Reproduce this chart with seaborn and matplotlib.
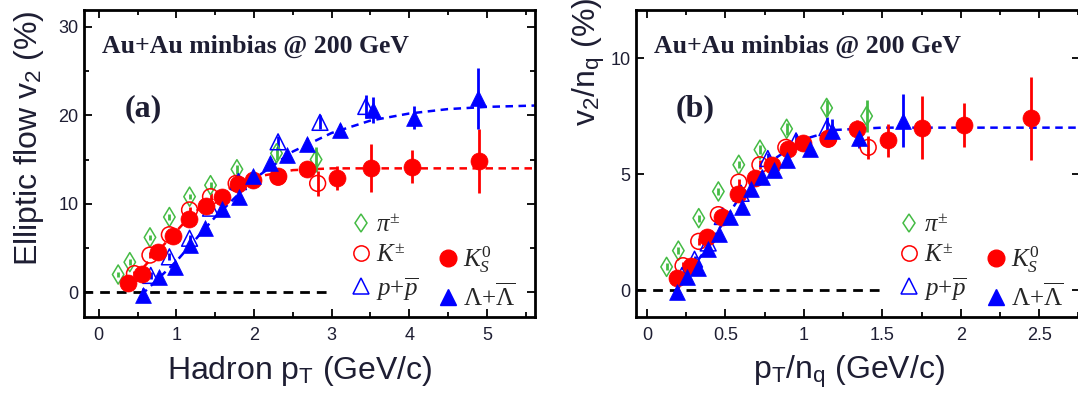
import matplotlib
matplotlib.use("Agg")
import matplotlib.pyplot as plt
from matplotlib.lines import Line2D
from matplotlib.ticker import MultipleLocator
import seaborn as sns

# ---- panel (a): v2 vs hadron pT ----
pi_pt = [0.25, 0.40, 0.66, 0.91, 1.17, 1.44, 1.78, 2.29, 2.80]
pi_v2 = [2.0, 3.4, 6.2, 8.5, 10.8, 12.1, 13.9, 15.7, 15.0]
pi_err = [0.3, 0.3, 0.3, 0.3, 0.3, 0.4, 0.5, 0.7, 1.4]

kch_pt = [0.46, 0.66, 0.91, 1.17, 1.44, 1.77, 2.31, 2.82]
kch_v2 = [2.1, 4.2, 6.5, 9.3, 10.8, 12.3, 13.0, 12.3]
kch_err = [0.3, 0.3, 0.3, 0.3, 0.4, 0.5, 0.6, 1.4]

k0s_pt = [0.38, 0.56, 0.76, 0.96, 1.16, 1.38, 1.59, 1.80, 1.99, 2.31, 2.68, 3.07, 3.51, 4.04, 4.90]
k0s_v2 = [1.0, 2.1, 4.6, 6.3, 8.3, 9.7, 10.8, 12.2, 12.7, 13.1, 13.9, 12.9, 14.0, 14.2, 14.8]
k0s_err = [0.3, 0.3, 0.3, 0.3, 0.3, 0.3, 0.4, 0.4, 0.5, 0.5, 0.8, 1.4, 2.7, 1.9, 3.6]

p_pt = [0.67, 0.91, 1.17, 1.44, 1.80, 2.31, 2.85, 3.44]
p_v2 = [1.9, 4.0, 6.1, 9.5, 12.5, 17.0, 19.2, 21.0]
p_err = [0.4, 0.4, 0.4, 0.5, 0.6, 0.7, 0.8, 1.3]

lam_pt = [0.57, 0.77, 0.98, 1.17, 1.37, 1.59, 1.81, 1.99, 2.20, 2.42, 2.68, 3.11, 3.53, 4.06, 4.89]
lam_v2 = [-0.3, 1.7, 2.9, 5.3, 7.3, 9.4, 10.8, 13.1, 14.6, 15.5, 16.8, 18.3, 20.6, 19.7, 21.9]
lam_err = [0.8, 0.4, 0.3, 0.3, 0.3, 0.3, 0.4, 0.4, 0.5, 0.5, 0.6, 0.7, 1.5, 1.3, 3.5]

fit_k_a_x = [0.35, 0.8, 1.2, 1.6, 2.0, 2.5, 3.0, 5.62]
fit_k_a_y = [0.6, 5.0, 8.8, 11.4, 13.0, 13.8, 14.0, 14.0]
fit_l_a_x = [0.55, 1.0, 1.5, 2.0, 2.5, 3.0, 3.5, 4.0, 4.5, 5.0, 5.62]
fit_l_a_y = [-0.3, 3.5, 8.5, 12.8, 15.9, 18.0, 19.4, 20.2, 20.7, 20.95, 21.1]

# ---- panel (b): v2/nq vs pT/nq ----
pi_b_x = [0.125, 0.20, 0.33, 0.455, 0.585, 0.72, 0.89, 1.145, 1.40]
pi_b_y = [1.0, 1.7, 3.1, 4.25, 5.4, 6.05, 6.95, 7.85, 7.5]
pi_b_err = [0.15, 0.15, 0.15, 0.15, 0.15, 0.2, 0.25, 0.35, 0.7]

kch_b_x = [0.23, 0.33, 0.455, 0.585, 0.72, 0.885, 1.155, 1.41]
kch_b_y = [1.05, 2.1, 3.25, 4.65, 5.4, 6.15, 6.5, 6.15]
kch_b_err = [0.15, 0.15, 0.15, 0.15, 0.2, 0.25, 0.3, 0.5]

k0s_b_x = [0.19, 0.28, 0.38, 0.48, 0.58, 0.69, 0.795, 0.90, 0.995, 1.155, 1.34, 1.535, 1.755, 2.02, 2.45]
k0s_b_y = [0.5, 1.05, 2.3, 3.15, 4.15, 4.85, 5.4, 6.1, 6.35, 6.55, 6.95, 6.45, 7.0, 7.1, 7.4]
k0s_b_err = [0.15, 0.15, 0.15, 0.15, 0.15, 0.15, 0.2, 0.2, 0.25, 0.25, 0.4, 0.7, 1.35, 0.95, 1.8]

p_b_x = [0.223, 0.303, 0.39, 0.48, 0.60, 0.77, 0.95, 1.147]
p_b_y = [0.63, 1.33, 2.03, 3.17, 4.17, 5.67, 6.43, 7.0]
p_b_err = [0.15, 0.15, 0.15, 0.2, 0.2, 0.25, 0.3, 0.45]

lam_b_x = [0.19, 0.257, 0.327, 0.39, 0.457, 0.53, 0.603, 0.663, 0.733, 0.807, 0.893, 1.037, 1.177, 1.353, 1.63]
lam_b_y = [-0.1, 0.57, 0.97, 1.77, 2.43, 3.13, 3.6, 4.37, 4.87, 5.17, 5.6, 6.1, 6.87, 6.57, 7.3]
lam_b_err = [0.3, 0.15, 0.1, 0.1, 0.1, 0.1, 0.15, 0.15, 0.15, 0.2, 0.2, 0.25, 0.5, 0.45, 1.15]

fit_l_b_x = [0.18, 0.4, 0.6, 0.8, 1.0, 1.2, 1.5, 2.8]
fit_l_b_y = [-0.1, 2.0, 4.1, 5.6, 6.5, 6.9, 7.0, 7.0]

zero_a_x = [-0.2, 3.0]
zero_b_x = [-0.07, 1.5]
zero_y = [0, 0]

RED = "#ff0000"
BLUE = "#0000ff"
GREEN = "#44bb44"
TXT = "#1e1e33"

sns.set_style("ticks")
plt.rcParams["font.family"] = ["Liberation Sans", "DejaVu Sans"]
plt.rcParams["mathtext.fontset"] = "custom"
plt.rcParams["mathtext.rm"] = "Liberation Serif"
plt.rcParams["mathtext.it"] = "Liberation Serif:italic"
plt.rcParams["mathtext.bf"] = "Liberation Serif:bold"
plt.rcParams["mathtext.sf"] = "Liberation Sans"

fig = plt.figure(figsize=(10.78, 3.96), dpi=100)
ax_a = fig.add_axes([84 / 1078, 79 / 396, 451 / 1078, 307 / 396])
ax_b = fig.add_axes([636 / 1078, 79 / 396, 444 / 1078, 307 / 396])

styles = {
    "pi": dict(marker="d", fc="none", ec=GREEN, s=95, lw=1.1),
    "kch": dict(marker="o", fc="none", ec=RED, s=130, lw=1.1),
    "k0s": dict(marker="o", fc=RED, ec=RED, s=150, lw=0.5),
    "p": dict(marker="^", fc="none", ec=BLUE, s=130, lw=1.1),
    "lam": dict(marker="^", fc=BLUE, ec=BLUE, s=130, lw=0.5),
}
colors = {"pi": GREEN, "kch": RED, "k0s": RED, "p": BLUE, "lam": BLUE}


def draw_panel(ax, series, fits, zero_x):
    sns.lineplot(x=zero_x, y=zero_y, ax=ax, color="black", lw=2.0,
                 linestyle=(0, (3.5, 2.5)), zorder=1)
    for fx, fy, c in fits:
        sns.lineplot(x=fx, y=fy, ax=ax, color=c, lw=1.8, sort=False,
                     estimator=None, linestyle=(0, (3, 2.2)), zorder=1)
    for key, (x, y, e) in series.items():
        ax.errorbar(x, y, yerr=e, fmt="none", ecolor=colors[key],
                    elinewidth=2.0, capsize=0, zorder=2)
    for key, (x, y, e) in series.items():
        st = styles[key]
        sns.scatterplot(x=x, y=y, ax=ax, marker=st["marker"], s=st["s"],
                        facecolor=st["fc"], edgecolor=st["ec"],
                        linewidth=st["lw"], zorder=3)


draw_panel(ax_a,
           {"pi": (pi_pt, pi_v2, pi_err), "kch": (kch_pt, kch_v2, kch_err),
            "p": (p_pt, p_v2, p_err), "k0s": (k0s_pt, k0s_v2, k0s_err),
            "lam": (lam_pt, lam_v2, lam_err)},
           [(fit_k_a_x, fit_k_a_y, RED), (fit_l_a_x, fit_l_a_y, BLUE)],
           zero_a_x)
draw_panel(ax_b,
           {"pi": (pi_b_x, pi_b_y, pi_b_err), "kch": (kch_b_x, kch_b_y, kch_b_err),
            "p": (p_b_x, p_b_y, p_b_err), "k0s": (k0s_b_x, k0s_b_y, k0s_b_err),
            "lam": (lam_b_x, lam_b_y, lam_b_err)},
           [(fit_l_b_x, fit_l_b_y, BLUE)],
           zero_b_x)

ax_a.set_xlim(-0.19, 5.62)
ax_a.set_ylim(-2.8, 31.9)
ax_a.xaxis.set_major_locator(MultipleLocator(1))
ax_a.xaxis.set_minor_locator(MultipleLocator(0.5))
ax_a.yaxis.set_major_locator(MultipleLocator(10))
ax_a.yaxis.set_minor_locator(MultipleLocator(5))

ax_b.set_xlim(-0.07, 2.76)
ax_b.set_ylim(-1.16, 12.07)
ax_b.xaxis.set_major_locator(MultipleLocator(0.5))
ax_b.xaxis.set_minor_locator(MultipleLocator(0.25))
ax_b.yaxis.set_major_locator(MultipleLocator(5))
ax_b.set_xticks([0, 0.5, 1, 1.5, 2, 2.5])
ax_b.set_xticklabels(["0", "0.5", "1", "1.5", "2", "2.5"])

for ax, lbl in ((ax_a, "(a)"), (ax_b, "(b)")):
    for sp in ax.spines.values():
        sp.set_linewidth(2.0)
        sp.set_color("black")
        sp.set_visible(True)
    ax.tick_params(which="both", direction="in", top=True, right=True,
                   width=1.3, colors="black", labelcolor=TXT, labelsize=13)
    ax.tick_params(which="major", length=6)
    ax.tick_params(which="minor", length=3.5)
    ax.tick_params(axis="x", pad=7)
    ax.tick_params(axis="y", pad=4)
    ax.text(0.04, 0.86, "Au+Au minbias @ 200 GeV", transform=ax.transAxes,
            family="Liberation Serif", weight="bold", fontsize=18.5, color=TXT)
    ax.text(0.09, 0.68, lbl, transform=ax.transAxes, family="Liberation Serif",
            weight="bold", fontsize=23, color=TXT, va="center")

    handles = [
        Line2D([], [], ls="", marker="d", mfc="none", mec=GREEN, ms=9.5, mew=1.1),
        Line2D([], [], ls="", marker="o", mfc="none", mec=RED, ms=11, mew=1.1),
        Line2D([], [], ls="", marker="^", mfc="none", mec=BLUE, ms=11, mew=1.1),
        Line2D([], [], ls="", marker=""),
        Line2D([], [], ls="", marker="o", mfc=RED, mec=RED, ms=12),
        Line2D([], [], ls="", marker="^", mfc=BLUE, mec=BLUE, ms=11),
    ]
    labels = [r"$\pi^{\pm}$", r"$K^{\pm}$", r"$p$+$\overline{p}$", "",
              r"$K_{S}^{\mathit{0}}$", r"$\Lambda$+$\overline{\Lambda}$"]
    ax.legend(handles, labels, ncol=2, frameon=False, loc="lower left",
              bbox_to_anchor=(0.565, -0.02), borderpad=0, handlelength=0.8,
              handletextpad=0.2, columnspacing=0.78, labelspacing=0.3,
              prop={"family": "Liberation Serif", "size": 18})

ax_a.set_xlabel(r"Hadron p$_\mathsf{T}$ (GeV/c)", fontsize=23, color=TXT)
ax_a.set_ylabel(r"Elliptic flow v$_\mathsf{2}$ (%)", fontsize=23, color=TXT)
ax_b.set_xlabel(r"p$_\mathsf{T}$/n$_\mathsf{q}$ (GeV/c)", fontsize=23, color=TXT)
ax_b.set_ylabel(r"v$_\mathsf{2}$/n$_\mathsf{q}$ (%)", fontsize=23, color=TXT)
ax_a.xaxis.set_label_coords(0.479, -0.12)
ax_b.xaxis.set_label_coords(0.48, -0.12)
ax_a.yaxis.set_label_coords(-0.085, 0.583)
ax_b.yaxis.set_label_coords(-0.065, 0.83)

fig.savefig("out.png", dpi=100)
